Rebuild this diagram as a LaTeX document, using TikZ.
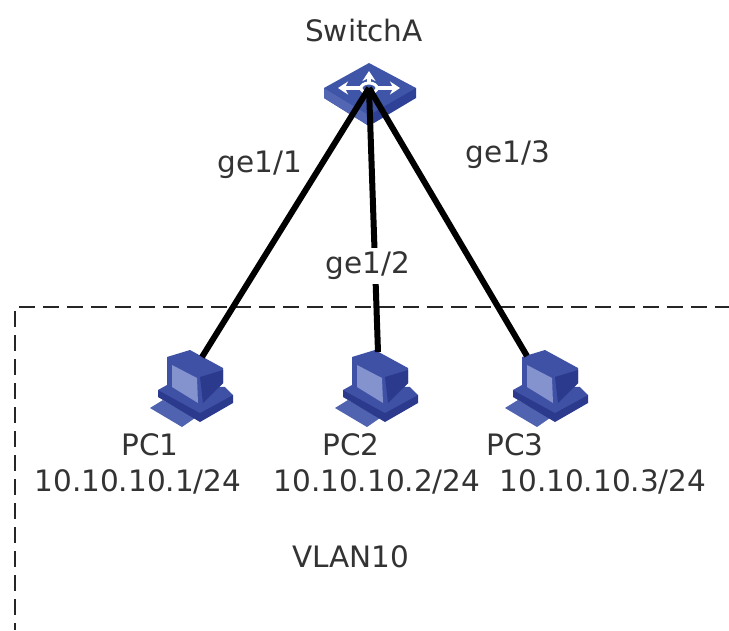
\documentclass[tikz,border=0pt]{standalone}
\usepackage{fontspec}
\usetikzlibrary{arrows.meta}
\setmainfont{DejaVu Sans}
\definecolor{swtop}{HTML}{3F55A8}
\definecolor{swside}{HTML}{2F4196}
\definecolor{swfront}{HTML}{5266B4}
\definecolor{pcmain}{HTML}{3F51A5}
\definecolor{pcdark}{HTML}{2B3A8C}
\definecolor{pcmid}{HTML}{4F63B0}
\definecolor{pcscreen}{HTML}{8492CE}
\tikzset{
  x=1pt,y=-1pt,
  lbl/.style={font=\fontsize{29.5}{34}\selectfont,text=black!80,inner sep=0pt},
  link/.style={line width=6pt,black},
  zone/.style={line width=1.6pt,black!85,dash pattern=on 16pt off 8pt},
  swarrow/.style={white,line width=3.4pt,-{Stealth[length=10pt,width=13pt]}},
  pcicon/.pic={
    % keyboard
    \fill[pcmid] (-42,11) -- (-29,3) -- (3,21) -- (-10,30) -- cycle;
    % base
    \fill[pcdark] (-34,-7) -- (-34,0) -- (8,25) -- (41,6) -- (41,-2) -- cycle;
    \fill[pcmain] (-34,-7) -- (-25,-12) -- (33,-10) -- (41,-2) -- (8,16) -- cycle;
    % monitor
    \fill[pcmain] (-25,-40) -- (-2,-47) -- (31,-29) -- (31,-14) -- (11,6) -- (-25,-10) -- cycle;
    \fill[pcdark] (8,-20) -- (31,-27) -- (31,-14) -- (11,6) -- cycle;
    \fill[pcscreen] (-20,-32) -- (5,-19) -- (6,6) -- (-20,-10) -- cycle;
  }
}
\begin{document}
\begin{tikzpicture}
\useasboundingbox (0,0) rectangle (729,630);
\fill[white] (0,0) rectangle (729,630);
% zone
\coordinate (zh) at (19,307);
\coordinate (zr) at (729,307);
\coordinate (zv) at (15,311);
\coordinate (zb) at (15,630);
\draw[zone] (zh) -- (zr);
\draw[zone] (zv) -- (zb);
% switch
\fill[swside] (324,88) -- (324,98) -- (369,126) -- (416,98) -- (416,88) -- cycle;
\fill[swfront] (324,88) -- (324,98) -- (369,126) -- (369,115) -- cycle;
\fill[swtop] (369,63) -- (416,88) -- (369,115) -- (324,88) -- cycle;
\draw[white,line width=3pt] (369,88) ellipse (8 and 5);
\draw[swarrow] (369,83) -- (369,71);
\draw[swarrow] (361,88) -- (338,88);
\draw[swarrow] (377,88) -- (400,88);
\node (sw) at (369,88) [inner sep=0pt,minimum size=0pt] {};
% PCs
\pic at (192,397) {pcicon};
\pic at (377,397) {pcicon};
\pic at (547,397) {pcicon};
\node (pc1) at (202,357) [inner sep=0pt,minimum size=0pt] {};
\node (pc2) at (378,352) [inner sep=0pt,minimum size=0pt] {};
\node (pc3) at (527,356) [inner sep=0pt,minimum size=0pt] {};
\draw[link] (sw.center) -- (pc1.center);
\draw[link] (sw.center) -- (pc2.center);
\draw[link] (sw.center) -- (pc3.center);
% labels
\node[lbl] (tsw) at (364,30) {SwitchA};
\node[lbl] (l1) at (260,165) {ge1/1};
\node[lbl,fill=white,minimum height=36pt] (l2) at (368,266) {ge1/2};
\node[lbl] (l3) at (508,155) {ge1/3};
\node[lbl] (n1) at (150,445) {PC1};
\node[lbl] (n2) at (351,445) {PC2};
\node[lbl] (n3) at (515,445) {PC3};
\node[lbl] (a1) at (138,482) {10.10.10.1/24};
\node[lbl] (a2) at (377,482) {10.10.10.2/24};
\node[lbl] (a3) at (603,482) {10.10.10.3/24};
\node[lbl] (v) at (351,557) {VLAN10};
\end{tikzpicture}
\end{document}
